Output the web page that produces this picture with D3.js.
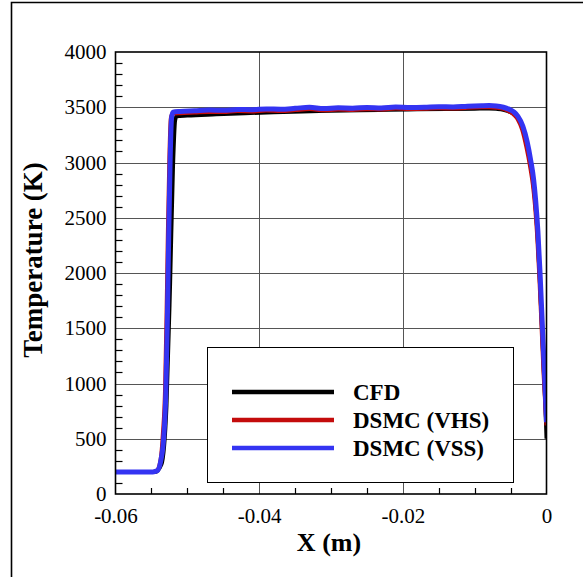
<!DOCTYPE html>
<html>
<head>
<meta charset="utf-8">
<script src="https://cdn.jsdelivr.net/npm/d3@7"></script>
<style>
  html, body { margin: 0; padding: 0; background: #fff; }
  svg { display: block; }
</style>
</head>
<body>
<svg id="chart" width="583" height="577"></svg>
<script>
// Temperature profile along the stagnation line: CFD vs. DSMC (VHS / VSS)
const xTicks = [-0.06, -0.04, -0.02, 0];
const xTickLabels = ["-0.06", "-0.04", "-0.02", "0"];
const yTicks = [0, 500, 1000, 1500, 2000, 2500, 3000, 3500, 4000];

const cfdX = [-0.06, -0.0545, -0.0536, -0.0529, -0.0524, -0.0520, -0.0517, -0.0515, -0.050, -0.046, -0.042, -0.038, -0.034, -0.030, -0.026, -0.022, -0.018, -0.014, -0.010, -0.008, -0.007, -0.006, -0.005, -0.004, -0.0034, -0.0028, -0.0023, -0.0019, -0.0016, -0.0013, -0.0010, -0.0007, -0.0004, -0.0001, 0];
const cfdT = [200, 200, 270, 800, 1900, 2950, 3380, 3418, 3425, 3436, 3446, 3455, 3462, 3468, 3473, 3477, 3481, 3484, 3487, 3489, 3486, 3478, 3455, 3410, 3330, 3180, 3010, 2850, 2660, 2400, 2030, 1600, 1150, 700, 500];

const vhsX = [-0.06, -0.0548, -0.0542, -0.0537, -0.0534, -0.0531, -0.0529, -0.0527, -0.0525, -0.0523, -0.0521, -0.051, -0.049, -0.047, -0.045, -0.043, -0.041, -0.039, -0.037, -0.035, -0.033, -0.031, -0.029, -0.027, -0.025, -0.023, -0.021, -0.019, -0.017, -0.015, -0.013, -0.011, -0.009, -0.008, -0.007, -0.006, -0.005, -0.0045, -0.004, -0.0034, -0.0028, -0.0023, -0.0019, -0.0016, -0.0013, -0.0010, -0.0007, -0.0004, -0.0001, 0];
const vhsT = [200, 200, 215, 320, 550, 950, 1600, 2400, 3050, 3400, 3440, 3446, 3452, 3458, 3456, 3465, 3462, 3470, 3466, 3474, 3484, 3472, 3480, 3476, 3483, 3479, 3488, 3484, 3486, 3490, 3488, 3495, 3499, 3500, 3496, 3485, 3455, 3430, 3390, 3300, 3140, 2970, 2800, 2610, 2340, 1970, 1530, 1080, 720, 620];

const vssX = [-0.06, -0.0548, -0.0542, -0.0537, -0.0533, -0.0530, -0.0528, -0.0526, -0.0524, -0.0522, -0.0520, -0.051, -0.049, -0.047, -0.045, -0.043, -0.041, -0.039, -0.037, -0.035, -0.033, -0.031, -0.029, -0.027, -0.025, -0.023, -0.021, -0.019, -0.017, -0.015, -0.013, -0.011, -0.009, -0.008, -0.007, -0.006, -0.005, -0.0045, -0.004, -0.0033, -0.0027, -0.0022, -0.0018, -0.0015, -0.0012, -0.0009, -0.0006, -0.0003, -0.0001, 0];
const vssT = [200, 200, 210, 300, 500, 900, 1500, 2300, 3000, 3400, 3455, 3462, 3468, 3475, 3472, 3480, 3478, 3485, 3482, 3490, 3500, 3488, 3495, 3492, 3498, 3494, 3502, 3498, 3500, 3505, 3503, 3510, 3514, 3515, 3512, 3500, 3475, 3455, 3420, 3330, 3190, 3020, 2850, 2650, 2380, 2000, 1560, 1120, 820, 650];

const series = [
  { name: "CFD",        xs: cfdX, ts: cfdT, color: "#000000", width: 4 },
  { name: "DSMC (VHS)", xs: vhsX, ts: vhsT, color: "#c40c0c", width: 4 },
  { name: "DSMC (VSS)", xs: vssX, ts: vssT, color: "#3434f2", width: 5 }
];

const svg = d3.select("#chart");
const plotL = 115.5, plotR = 546.5, plotT = 52, plotB = 494;
const serif = "'Liberation Serif', 'Times New Roman', serif";

const x = d3.scaleLinear().domain([-0.06, 0]).range([plotL, plotR]);
const y = d3.scaleLinear().domain([0, 4000]).range([plotB, plotT]);

// outer frame (left and top edges)
svg.append("path")
  .attr("d", `M11.5,577 V2.5 H583`)
  .attr("fill", "none").attr("stroke", "#000").attr("stroke-width", 1.6);

// grid lines
const grid = svg.append("g").attr("stroke", "#555").attr("stroke-width", 1);
grid.selectAll("line.h").data(yTicks.filter(d => d > 0 && d < 4000)).join("line")
  .attr("class", "h")
  .attr("x1", plotL).attr("x2", plotR)
  .attr("y1", d => Math.round(y(d)) + 0.5).attr("y2", d => Math.round(y(d)) + 0.5);
grid.selectAll("line.v").data(xTicks.filter(d => d > -0.06 && d < 0)).join("line")
  .attr("class", "v")
  .attr("y1", plotT).attr("y2", plotB)
  .attr("x1", d => Math.round(x(d)) + 0.5).attr("x2", d => Math.round(x(d)) + 0.5);

// minor ticks, pointing inward
const yMinor = d3.range(0, 4001, 100).filter(d => d % 500 !== 0);
svg.append("g").selectAll("line").data(yMinor).join("line")
  .attr("x1", plotL).attr("x2", plotL + 7)
  .attr("y1", d => Math.round(y(d)) + 0.5).attr("y2", d => Math.round(y(d)) + 0.5)
  .attr("stroke", "#000").attr("stroke-width", 1.2);
const xMinor = d3.range(-0.06, 0.0001, 0.005).filter(d => Math.abs(Math.round(d / 0.02) * 0.02 - d) > 1e-6);
svg.append("g").selectAll("line").data(xMinor).join("line")
  .attr("y1", plotB).attr("y2", plotB - 6)
  .attr("x1", d => Math.round(x(d)) + 0.5).attr("x2", d => Math.round(x(d)) + 0.5)
  .attr("stroke", "#000").attr("stroke-width", 1.2);

// curves
const line = d3.line().x(d => x(d[0])).y(d => y(d[1])).curve(d3.curveMonotoneX);
svg.append("clipPath").attr("id", "plotclip").append("rect")
  .attr("x", plotL - 10).attr("y", plotT).attr("width", plotR - plotL + 10).attr("height", plotB - plotT);
const curves = svg.append("g").attr("clip-path", "url(#plotclip)");
series.forEach(s => {
  curves.append("path")
    .datum(s.xs.map((v, i) => [v, s.ts[i]]))
    .attr("d", line)
    .attr("fill", "none")
    .attr("stroke", s.color)
    .attr("stroke-width", s.width)
    .attr("stroke-linejoin", "round");
});

// axes
const xAxis = d3.axisBottom(x).tickValues(xTicks).tickFormat((d, i) => xTickLabels[i]).tickSize(0).tickPadding(14);
const yAxis = d3.axisLeft(y).tickValues(yTicks).tickFormat(d3.format("d")).tickSize(0).tickPadding(9);
const gx = svg.append("g").attr("transform", `translate(0,${plotB})`).call(xAxis);
const gy = svg.append("g").attr("transform", `translate(${plotL},0)`).call(yAxis);
[gx, gy].forEach(g => {
  g.select(".domain").remove();
  g.attr("font-family", serif).attr("font-size", 21);
  g.selectAll("text")
    .attr("font-family", serif)
    .attr("font-size", 21).attr("fill", "#000");
});

// plot frame
svg.append("rect")
  .attr("x", plotL).attr("y", plotT).attr("width", plotR - plotL).attr("height", plotB - plotT)
  .attr("fill", "none").attr("stroke", "#000").attr("stroke-width", 1.6);

// axis titles
svg.append("text")
  .attr("x", 329).attr("y", 551)
  .attr("text-anchor", "middle")
  .attr("font-family", serif)
  .attr("font-weight", "bold").attr("font-size", 26)
  .text("X (m)");
svg.append("text")
  .attr("transform", "translate(42,260) rotate(-90)")
  .attr("text-anchor", "middle")
  .attr("font-family", serif)
  .attr("font-weight", "bold").attr("font-size", 27)
  .text("Temperature (K)");

// legend
const legend = svg.append("g");
legend.append("rect")
  .attr("x", 207.5).attr("y", 347.5).attr("width", 306).attr("height", 135)
  .attr("fill", "#fff").attr("stroke", "#000").attr("stroke-width", 1);
series.forEach((s, i) => {
  const ly = 392 + i * 28;
  legend.append("line")
    .attr("x1", 232).attr("x2", 334).attr("y1", ly).attr("y2", ly)
    .attr("stroke", s.color).attr("stroke-width", 4.5);
  legend.append("text")
    .attr("x", 353).attr("y", ly + 8)
    .attr("font-family", serif)
    .attr("font-weight", "bold").attr("font-size", 23)
    .text(s.name);
});
</script>
</body>
</html>
